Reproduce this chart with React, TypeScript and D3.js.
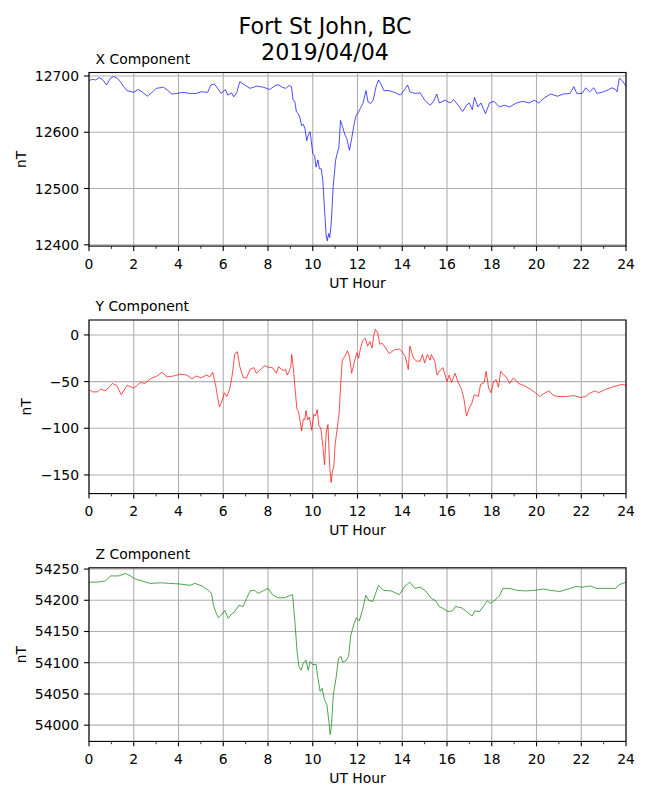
import React from "react";
import * as d3 from "d3";

const W = 650;
const H = 800;

const titleLines = ["Fort St John, BC", "2019/04/04"];
const componentNames = ["X Component", "Y Component", "Z Component"];
const xLabel = "UT Hour";
const yLabel = "nT";
const hourTicks = [0, 2, 4, 6, 8, 10, 12, 14, 16, 18, 20, 22, 24];
const hourMinorTicks = [1, 3, 5, 7, 9, 11, 13, 15, 17, 19, 21, 23];

const xTicks = [12400, 12500, 12600, 12700];
const yTicks = [-150, -100, -50, 0];
const zTicks = [54000, 54050, 54100, 54150, 54200, 54250];

// [UT hour, nT]
const xSeries: [number, number][] = [
  [0, 12692], [0.15, 12694], [0.3, 12693], [0.45, 12697], [0.6, 12694], [0.78, 12684], [0.96, 12696],
  [1.1, 12699], [1.26, 12696], [1.4, 12690], [1.55, 12681], [1.7, 12674], [2.0, 12671], [2.2, 12676],
  [2.37, 12672], [2.6, 12664], [2.8, 12670], [3.0, 12678], [3.33, 12680], [3.5, 12675], [3.7, 12668],
  [3.93, 12669], [4.2, 12671], [4.5, 12669], [4.8, 12669], [5.0, 12672], [5.3, 12671], [5.45, 12684],
  [5.6, 12686], [5.75, 12678], [5.9, 12669], [6.1, 12676], [6.2, 12666], [6.37, 12670], [6.47, 12663],
  [6.6, 12670], [6.74, 12690], [6.96, 12684], [7.2, 12678], [7.5, 12682], [7.8, 12680], [8.07, 12676],
  [8.37, 12684], [8.48, 12684], [8.64, 12680], [8.79, 12678], [8.94, 12683], [9.05, 12681], [9.12, 12658],
  [9.2, 12654], [9.27, 12636], [9.35, 12633], [9.42, 12627], [9.5, 12612], [9.58, 12614], [9.65, 12607],
  [9.73, 12585], [9.8, 12595], [9.88, 12601], [9.94, 12583], [10.0, 12562], [10.08, 12559], [10.15, 12538],
  [10.23, 12551], [10.3, 12535], [10.38, 12535], [10.45, 12514], [10.53, 12461], [10.6, 12416],
  [10.65, 12407], [10.71, 12420], [10.76, 12413], [10.83, 12440], [10.91, 12502], [11.02, 12550],
  [11.09, 12562], [11.17, 12574], [11.24, 12621], [11.33, 12610], [11.44, 12595], [11.52, 12589],
  [11.64, 12568], [11.74, 12589], [11.85, 12615], [11.94, 12630], [12.05, 12636], [12.12, 12642],
  [12.24, 12651], [12.38, 12674], [12.47, 12654], [12.58, 12651], [12.7, 12657], [12.83, 12681],
  [12.94, 12693], [13.03, 12687], [13.18, 12674], [13.41, 12674], [13.71, 12670], [13.91, 12666],
  [14.04, 12672], [14.24, 12684], [14.34, 12672], [14.56, 12669], [14.8, 12670], [15.0, 12657], [15.25, 12648],
  [15.4, 12655], [15.54, 12668], [15.66, 12652], [15.92, 12657], [16.14, 12652], [16.3, 12658], [16.5, 12648],
  [16.7, 12637], [16.87, 12648], [17.0, 12652], [17.13, 12640], [17.23, 12662], [17.38, 12645], [17.52, 12652],
  [17.72, 12633], [17.9, 12652], [18.1, 12655], [18.34, 12645], [18.56, 12648], [18.8, 12645], [19.1, 12652],
  [19.4, 12655], [19.67, 12652], [19.9, 12657], [20.1, 12652], [20.34, 12661], [20.64, 12668], [20.94, 12664],
  [21.2, 12668], [21.5, 12669], [21.67, 12681], [21.8, 12669], [22.04, 12669], [22.2, 12679], [22.37, 12672],
  [22.56, 12679], [22.7, 12669], [23.0, 12672], [23.23, 12676], [23.37, 12679], [23.53, 12676], [23.6, 12672],
  [23.7, 12696], [23.83, 12692], [24.0, 12682],
];

const ySeries: [number, number][] = [
  [0, -58.5], [0.15, -61], [0.37, -61], [0.52, -58], [0.74, -60], [1.04, -52], [1.23, -54], [1.44, -64],
  [1.7, -54], [2.0, -57], [2.3, -51], [2.5, -52], [2.74, -47], [3.04, -44], [3.26, -40], [3.48, -45],
  [3.78, -44], [4.07, -42], [4.37, -43], [4.6, -47], [4.8, -44], [5.0, -46], [5.26, -43], [5.4, -45],
  [5.53, -40], [5.6, -48], [5.67, -55], [5.74, -66], [5.83, -77], [5.94, -71], [6.05, -62], [6.16, -66],
  [6.3, -57], [6.4, -43], [6.52, -20], [6.63, -18], [6.74, -34], [6.9, -46], [7.04, -46], [7.2, -37],
  [7.36, -35], [7.48, -41], [7.63, -38], [7.85, -33], [8.07, -35], [8.2, -35], [8.37, -41], [8.48, -34],
  [8.6, -37], [8.71, -38], [8.79, -37], [8.86, -43], [8.94, -39], [9.02, -34], [9.06, -21], [9.14, -37],
  [9.2, -55], [9.29, -79], [9.36, -82], [9.44, -93], [9.5, -103], [9.58, -90], [9.64, -91], [9.7, -81],
  [9.77, -91], [9.85, -88], [9.95, -102], [10.05, -85], [10.12, -87], [10.2, -80], [10.27, -97],
  [10.36, -100], [10.45, -119], [10.53, -139], [10.6, -105], [10.68, -96], [10.76, -142], [10.82, -158],
  [10.88, -146], [10.94, -141], [11.0, -117], [11.09, -101], [11.18, -84], [11.26, -48], [11.32, -27],
  [11.44, -23], [11.55, -17], [11.64, -23], [11.74, -41], [11.85, -30], [11.97, -19], [12.05, -25],
  [12.12, -16], [12.23, -6], [12.35, -3.5], [12.45, -12], [12.55, -7], [12.65, -14], [12.73, 0],
  [12.8, 6], [12.9, 2], [13.0, -10], [13.1, -9], [13.26, -14], [13.41, -20], [13.64, -16], [13.86, -15],
  [13.96, -17], [14.13, -23], [14.27, -37],
  [14.34, -12], [14.5, -25], [14.64, -28], [14.8, -28], [14.9, -21], [15.0, -30], [15.12, -21], [15.25, -27],
  [15.3, -21], [15.45, -28], [15.56, -43], [15.68, -38], [15.82, -35], [16.0, -50], [16.1, -43], [16.2, -51],
  [16.36, -41], [16.5, -51], [16.65, -58], [16.76, -69], [16.87, -87], [17.0, -78], [17.1, -74], [17.22, -64],
  [17.4, -66], [17.5, -53], [17.66, -51], [17.75, -39], [17.86, -57], [17.97, -62], [18.08, -50], [18.2, -48],
  [18.3, -56], [18.4, -39], [18.53, -43], [18.65, -45], [18.8, -52], [18.97, -46], [19.2, -52], [19.42, -54],
  [19.72, -58], [19.95, -62], [20.14, -66], [20.32, -63], [20.55, -60], [20.77, -65], [21.0, -66], [21.3, -66],
  [21.67, -65], [21.97, -67], [22.2, -66], [22.4, -62], [22.63, -60], [22.77, -62], [23.07, -58.5],
  [23.36, -56], [23.66, -54], [23.8, -53], [24.0, -54],
];

const zSeries: [number, number][] = [
  [0, 54229], [0.37, 54229], [0.74, 54231], [0.96, 54239], [1.33, 54239], [1.63, 54243], [1.85, 54239],
  [2.07, 54234], [2.37, 54231], [2.74, 54227], [3.2, 54228], [3.63, 54227], [4.07, 54226], [4.52, 54224],
  [4.74, 54227], [5.04, 54223], [5.33, 54216], [5.48, 54211], [5.56, 54192], [5.67, 54181], [5.78, 54172],
  [5.93, 54177], [6.07, 54184], [6.22, 54171], [6.37, 54178], [6.52, 54182], [6.7, 54192], [6.89, 54190],
  [7.04, 54203], [7.2, 54215], [7.4, 54216], [7.56, 54211], [7.78, 54215], [8.0, 54219], [8.2, 54209],
  [8.44, 54204], [8.74, 54204], [9.0, 54208], [9.1, 54209], [9.2, 54166], [9.3, 54118], [9.38, 54094],
  [9.48, 54088], [9.58, 54099], [9.7, 54104], [9.8, 54088], [9.88, 54102], [10.0, 54097], [10.15, 54097],
  [10.22, 54078], [10.33, 54054], [10.42, 54059], [10.52, 54041], [10.63, 54033], [10.72, 54006],
  [10.78, 53985], [10.84, 54001], [10.92, 54049], [11.04, 54075], [11.15, 54107], [11.27, 54110],
  [11.33, 54101], [11.48, 54103], [11.6, 54110], [11.7, 54144], [11.85, 54163], [11.95, 54172],
  [12.08, 54167], [12.24, 54187], [12.37, 54208], [12.5, 54200], [12.68, 54198], [12.94, 54224],
  [13.16, 54216], [13.5, 54215], [13.87, 54209], [14.1, 54222], [14.34, 54229], [14.56, 54219],
  [14.8, 54221], [15.04, 54215], [15.3, 54203], [15.5, 54199], [15.65, 54190], [15.82, 54187],
  [16.04, 54182], [16.24, 54183], [16.38, 54190], [16.64, 54188], [16.87, 54182], [17.0, 54178],
  [17.13, 54175], [17.24, 54183], [17.46, 54182], [17.7, 54194], [17.8, 54199], [17.94, 54195],
  [18.14, 54200], [18.34, 54207], [18.5, 54219], [18.8, 54219], [19.1, 54216], [19.5, 54215],
  [19.94, 54216], [20.3, 54218], [20.6, 54216], [21.04, 54214], [21.5, 54219], [21.76, 54222],
  [22.04, 54221], [22.4, 54223], [22.7, 54219], [23.07, 54219], [23.53, 54219], [23.7, 54225], [24.0, 54229],
];

const seriesList = [xSeries, ySeries, zSeries];
const tickList = [xTicks, yTicks, zTicks];
const domains: [number, number][] = [
  [12397.7, 12706.2],
  [-170, 16],
  [53974, 54252],
];
const colors = ["#0000ff", "#ff0000", "#008000"];

const FONT = "DejaVu Sans, sans-serif";
const LEFT = 89;
const RIGHT = 626;
const TOPS = [72.5, 320, 567.8];
const PH = 173.6;

function fmt(v: number) {
  return v < 0 ? "\u2212" + Math.abs(v) : String(v);
}

function Panel({ idx }: { idx: number }) {
  const top = TOPS[idx];
  const bottom = top + PH;
  const x = d3.scaleLinear().domain([0, 24]).range([LEFT, RIGHT]);
  const y = d3.scaleLinear().domain(domains[idx]).range([bottom, top]);
  const line = d3
    .line<[number, number]>()
    .x((d) => x(d[0]))
    .y((d) => y(d[1]));
  const ticks = tickList[idx];
  return (
    <g>
      <defs>
        <clipPath id={`clip${idx}`}>
          <rect x={LEFT} y={top} width={RIGHT - LEFT} height={PH} />
        </clipPath>
      </defs>
      {hourTicks.map((h) => (
        <line key={"gx" + h} x1={x(h)} x2={x(h)} y1={top} y2={bottom} stroke="#b0b0b0" strokeWidth={1.1} />
      ))}
      {ticks.map((t) => (
        <line key={"gy" + t} x1={LEFT} x2={RIGHT} y1={y(t)} y2={y(t)} stroke="#b0b0b0" strokeWidth={1.1} />
      ))}
      <path
        d={line(seriesList[idx]) || ""}
        fill="none"
        stroke={colors[idx]}
        strokeWidth={0.7}
        strokeLinejoin="round"
        clipPath={`url(#clip${idx})`}
      />
      <rect x={LEFT} y={top} width={RIGHT - LEFT} height={PH} fill="none" stroke="#000" strokeWidth={1.1} />
      {hourTicks.map((h) => (
        <g key={"tx" + h}>
          <line x1={x(h)} x2={x(h)} y1={bottom} y2={bottom + 4.9} stroke="#000" strokeWidth={1.1} />
          <text x={x(h)} y={bottom + 22.5} textAnchor="middle" fontSize={13.9} fontFamily={FONT} fill="#000">
            {h}
          </text>
        </g>
      ))}
      {hourMinorTicks.map((h) => (
        <line key={"mx" + h} x1={x(h)} x2={x(h)} y1={bottom} y2={bottom + 2.8} stroke="#000" strokeWidth={0.8} />
      ))}
      {ticks.map((t) => (
        <g key={"ty" + t}>
          <line x1={LEFT - 4.9} x2={LEFT} y1={y(t)} y2={y(t)} stroke="#000" strokeWidth={1.1} />
          <text x={LEFT - 10} y={y(t) + 5} textAnchor="end" fontSize={13.9} fontFamily={FONT} fill="#000">
            {fmt(t)}
          </text>
        </g>
      ))}
      <text x={(LEFT + RIGHT) / 2} y={bottom + 41.5} textAnchor="middle" fontSize={13.9} fontFamily={FONT} fill="#000">
        {xLabel}
      </text>
      <text
        transform={`translate(${idx === 1 ? 31 : 26},${(top + bottom) / 2}) rotate(-90)`}
        textAnchor="middle"
        fontSize={13.9}
        fontFamily={FONT}
        fill="#000"
      >
        {yLabel}
      </text>
      <text x={95.5} y={top - 8.8} fontSize={13.9} fontFamily={FONT} fill="#000">
        {componentNames[idx]}
      </text>
    </g>
  );
}

export default function App() {
  return (
    <svg
      width={W}
      height={H}
      viewBox={`0 0 ${W} ${H}`}
      style={{ position: "absolute", left: 0, top: 0, background: "#fff" }}
    >
      <rect width={W} height={H} fill="#fff" />
      <text x={325} y={33.5} textAnchor="middle" fontSize={22.2} fontFamily={FONT} fill="#000">
        {titleLines[0]}
      </text>
      <text x={325} y={60.2} textAnchor="middle" fontSize={22.2} fontFamily={FONT} fill="#000">
        {titleLines[1]}
      </text>
      {[0, 1, 2].map((i) => (
        <Panel key={i} idx={i} />
      ))}
    </svg>
  );
}
